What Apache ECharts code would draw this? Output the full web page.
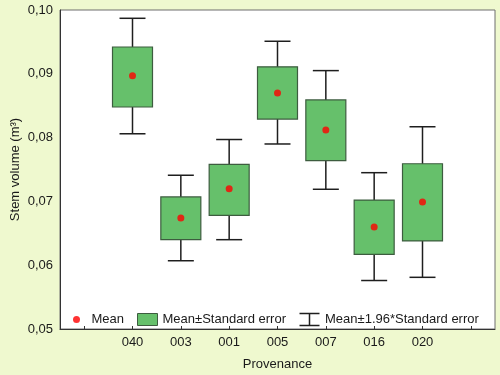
<!DOCTYPE html>
<html>
<head>
<meta charset="utf-8">
<script src="https://cdn.jsdelivr.net/npm/echarts@6/dist/echarts.min.js"></script>
<style>
  html, body { margin: 0; padding: 0; background: #eff9cf; }
  #chart { width: 500px; height: 375px; }
</style>
</head>
<body>
<div id="chart"></div>
<script>
// provenances along the x axis (blank slot at each end)
let provenances = ['040', '003', '001', '005', '007', '016', '020'];
let yTicks = [0.05, 0.06, 0.07, 0.08, 0.09, 0.10];

// values
let means  = [0.0897, 0.0674, 0.0720, 0.0870, 0.0812, 0.0660, 0.0699];
let seLow  = [0.0848, 0.0640, 0.0678, 0.0829, 0.0764, 0.0617, 0.0638];
let seHigh = [0.0942, 0.0707, 0.0758, 0.0911, 0.0859, 0.0702, 0.0759];
let ciLow  = [0.0806, 0.0607, 0.0640, 0.0790, 0.0719, 0.0576, 0.0581];
let ciHigh = [0.0987, 0.0741, 0.0797, 0.0951, 0.0905, 0.0745, 0.0817];

let categories = [''].concat(provenances, ['']);
let font = 'Arial, "Liberation Sans", sans-serif';

let chart = echarts.init(document.getElementById('chart'));

function renderBox(params, api) {
    let x = api.value(0);
    let top = api.coord([x, api.value(2)]);
    let bot = api.coord([x, api.value(1)]);
    let w = 40;
    return {
        type: 'rect',
        shape: { x: top[0] - w / 2, y: top[1], width: w, height: bot[1] - top[1] },
        style: { fill: '#66c06b', stroke: '#3d5c3f', lineWidth: 1.2 }
    };
}

function renderWhisker(params, api) {
    let x = api.value(0);
    let top = api.coord([x, api.value(2)]);
    let bot = api.coord([x, api.value(1)]);
    let c = 13;
    let st = { stroke: '#1e1e1e', lineWidth: 1.5, fill: null };
    return {
        type: 'group',
        children: [
            { type: 'line', shape: { x1: top[0], y1: top[1], x2: bot[0], y2: bot[1] }, style: st },
            { type: 'line', shape: { x1: top[0] - c, y1: top[1], x2: top[0] + c, y2: top[1] }, style: st },
            { type: 'line', shape: { x1: bot[0] - c, y1: bot[1], x2: bot[0] + c, y2: bot[1] }, style: st }
        ]
    };
}

let legendText = { color: '#1a1a1a', fontSize: 13, fontFamily: font };

const option = {
    backgroundColor: '#eff9cf',
    animation: false,
    grid: {
        left: 60, right: 5, top: 10, bottom: 46,
        outerBoundsMode: 'none',
        show: true,
        backgroundColor: '#ffffff',
        borderColor: '#6e6e6e',
        borderWidth: 1
    },
    legend: [
        {
            left: 73, top: 313, padding: 0,
            itemWidth: 20, itemHeight: 7,
            textStyle: legendText,
            data: [{ name: 'Mean', icon: 'circle' }]
        },
        {
            left: 137, top: 313, padding: 0,
            itemWidth: 20, itemHeight: 12,
            textStyle: legendText,
            data: [{ name: 'Mean±Standard error', icon: 'rect',
                itemStyle: { color: '#66c06b', borderColor: '#3d5c3f', borderWidth: 1 } }]
        },
        {
            left: 297, top: 311, padding: 0,
            itemWidth: 21, itemHeight: 12,
            textStyle: legendText,
            data: [{ name: 'Mean±1.96*Standard error', icon: 'path://M0,0H20M10,0V12M0,12H20',
                itemStyle: { color: 'none', borderColor: '#1e1e1e', borderWidth: 1.5 } }]
        }
    ],
    xAxis: {
        type: 'category',
        data: categories,
        name: 'Provenance',
        nameLocation: 'middle',
        nameGap: 29,
        nameTextStyle: { color: '#1a1a1a', fontSize: 13, fontFamily: font },
        axisLine: { lineStyle: { color: '#333', width: 1 } },
        axisTick: { show: true, inside: true, alignWithLabel: true, length: 3, lineStyle: { color: '#333' } },
        axisLabel: { color: '#1a1a1a', fontSize: 13, fontFamily: font, margin: 7 },
        splitLine: { show: false }
    },
    yAxis: {
        type: 'value',
        min: 0.05,
        max: 0.10,
        interval: 0.01,
        name: 'Stem volume (m³)',
        nameLocation: 'middle',
        nameGap: 38,
        nameMoveOverlap: false,
        nameTextStyle: { color: '#1a1a1a', fontSize: 13, fontFamily: font },
        axisLine: { show: true, lineStyle: { color: '#333', width: 1 } },
        axisTick: { show: false },
        axisLabel: {
            color: '#1a1a1a', fontSize: 13, fontFamily: font, margin: 7,
            formatter: function (v) { return v.toFixed(2).replace('.', ','); }
        },
        splitLine: { show: false }
    },
    series: [
        {
            name: 'Mean±1.96*Standard error',
            type: 'custom',
            renderItem: renderWhisker,
            itemStyle: { color: '#1e1e1e' },
            z: 2,
            data: provenances.map((p, i) => [p, ciLow[i], ciHigh[i]])
        },
        {
            name: 'Mean±Standard error',
            type: 'custom',
            renderItem: renderBox,
            itemStyle: { color: '#66c06b' },
            z: 3,
            data: provenances.map((p, i) => [p, seLow[i], seHigh[i]])
        },
        {
            name: 'Mean',
            type: 'scatter',
            symbol: 'circle',
            symbolSize: 7,
            itemStyle: { color: '#ff0000' },
            z: 4,
            data: provenances.map((p, i) => [p, means[i]])
        }
    ]
};
chart.setOption(option);
</script>
</body>
</html>
